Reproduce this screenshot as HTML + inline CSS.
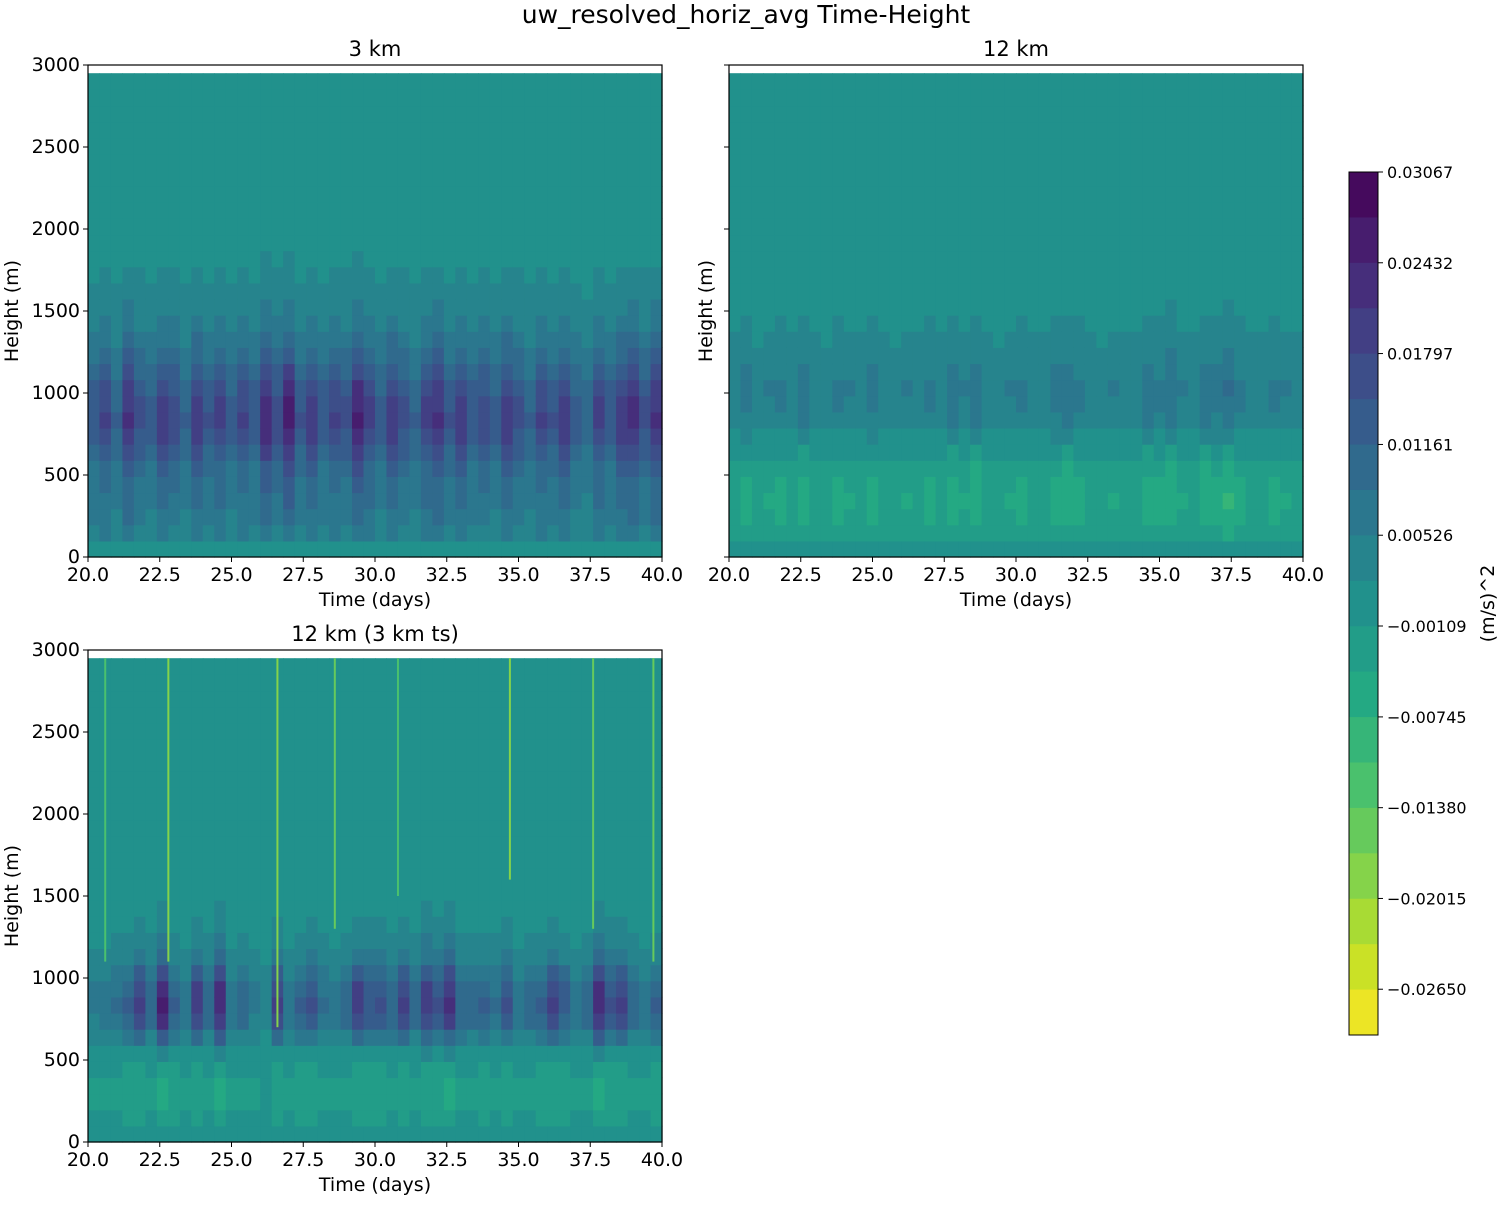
<!DOCTYPE html>
<html><head><meta charset="utf-8"><style>
body{margin:0;background:#fff;font-family:"Liberation Sans","DejaVu Sans",sans-serif;}
svg text{font-family:"DejaVu Sans","Liberation Sans",sans-serif;fill:#000;}
</style></head><body>
<svg id="fig" width="1500" height="1200" xmlns="http://www.w3.org/2000/svg">
<text x="746" y="23" font-size="25" text-anchor="middle">uw_resolved_horiz_avg Time-Height</text>
</svg>
<script>
// ---- data ----
const levelsTop = 0.03067;
const levelStep = 0.0031775;
const nLevels = 19;
const cbTicks = [0.03067,0.02432,0.01797,0.01161,0.00526,-0.00109,-0.00745,-0.01380,-0.02015,-0.02650];
const cbTickLabels = ["0.03067","0.02432","0.01797","0.01161","0.00526","\u22120.00109","\u22120.00745","\u22120.01380","\u22120.02015","\u22120.02650"];
const xTicks = [20,22.5,25,27.5,30,32.5,35,37.5,40];
const xTickLabels = ["20.0","22.5","25.0","27.5","30.0","32.5","35.0","37.5","40.0"];
const yTicks = [0,500,1000,1500,2000,2500,3000];
const heightTop = 2950;
// amplitudes per time column (50 columns, 20..40 days)
const amp3km = [0.014,0.018,0.012,0.022,0.016,0.013,0.020,0.017,0.012,0.021,0.015,0.019,0.013,0.018,0.014,0.024,0.017,0.026,0.015,0.020,0.014,0.018,0.016,0.025,0.019,0.013,0.021,0.016,0.012,0.019,0.022,0.015,0.020,0.014,0.017,0.013,0.021,0.016,0.012,0.018,0.015,0.020,0.013,0.011,0.019,0.014,0.021,0.023,0.016,0.022];
const amp12km = [0.008,0.011,0.006,0.009,0.010,0.007,0.012,0.008,0.006,0.010,0.009,0.007,0.011,0.008,0.006,0.009,0.007,0.010,0.008,0.012,0.009,0.013,0.008,0.006,0.009,0.010,0.007,0.008,0.011,0.013,0.010,0.007,0.006,0.009,0.008,0.007,0.012,0.010,0.014,0.009,0.008,0.013,0.011,0.015,0.010,0.008,0.007,0.010,0.009,0.008];
const amp12ts = [0.006,0.008,0.009,0.012,0.018,0.010,0.026,0.012,0.008,0.020,0.010,0.024,0.008,0.010,0.006,0.004,0.018,0.007,0.012,0.015,0.009,0.008,0.010,0.020,0.014,0.016,0.011,0.018,0.010,0.021,0.016,0.023,0.011,0.010,0.012,0.009,0.016,0.008,0.010,0.012,0.018,0.013,0.008,0.010,0.024,0.016,0.018,0.010,0.008,0.012];
// vertical profiles (30 rows, 0..2950 m)
const prof3km = [0,0.3,0.4,0.45,0.5,0.6,0.75,0.9,1,0.95,0.85,0.7,0.55,0.42,0.32,0.24,0.18,0.13,0.09,0.06,0.04,0.03,0.02,0.01,0,0,0,0,0,0];
const prof12km = [0,-0.3,-0.45,-0.5,-0.45,-0.35,-0.1,0.2,0.45,0.55,0.6,0.5,0.4,0.3,0.22,0.15,0.1,0.05,0,0,0,0,0,0,0,0,0,0,0,0];
const prof12ts = [0,-0.1,-0.2,-0.2,-0.1,0.1,0.5,0.85,1,0.9,0.65,0.4,0.25,0.15,0.1,0.05,0,0,0,0,0,0,0,0,0,0,0,0,0,0];
// yellow streaks in 12 km (3 km ts): day and value
const spikeDays = [20.6,22.8,26.6,28.6,30.8,34.7,37.6,39.7];
const spikeVals = [-0.012,-0.018,-0.020,-0.016,-0.012,-0.018,-0.016,-0.014];
const spikeBottom = [1100,1100,700,1300,1500,1600,1300,1100];

// ---- drawing ----
const NS="http://www.w3.org/2000/svg";
const svg=document.getElementById('fig');
function el(tag,attrs,parent){const e=document.createElementNS(NS,tag);for(const k in attrs)e.setAttribute(k,attrs[k]);(parent||svg).appendChild(e);return e;}
const vstops=["#440154","#482475","#414487","#355f8d","#2a788e","#21918c","#22a884","#44bf70","#7ad151","#bddf26","#fde725"];
function hex(h){return [1,3,5].map(i=>parseInt(h.substr(i,2),16));}
function viridis(t){t=Math.max(0,Math.min(1,t));const s=t*10,i=Math.min(9,Math.floor(s)),f=s-i;const a=hex(vstops[i]),b=hex(vstops[i+1]);return "rgb("+a.map((v,k)=>Math.round(v+(b[k]-v)*f)).join(",")+")";}
function bandColor(v){let i=Math.floor((levelsTop-v)/levelStep);i=Math.max(0,Math.min(nLevels-1,i));return viridis((i+0.5)/nLevels);}

function panel(name,x0,y0,w,h,title,amps,prof,showYLabels,spikes){
  const g=el('g',{});
  const xs=d=>x0+(d-20)/20*w, ys=m=>y0+h-m/3000*h;
  const n=amps.length, rows=prof.length;
  const plot=el('g',{},g);
  
  
  for(let c=0;c<n;c++){
    const d0=20+20*c/n,d1=20+20*(c+1)/n;
    for(let r=0;r<rows;r++){
      const m0=heightTop*r/rows,m1=heightTop*(r+1)/rows;
      const v=amps[c]*prof[r];
      const rc=el('rect',{x:xs(d0),y:ys(m1),width:xs(d1)-xs(d0)+0.6,height:ys(m0)-ys(m1)+0.6,fill:bandColor(v)},plot);
      
      
    }
  }
  if(spikes){
    for(let i=0;i<spikeDays.length;i++){
      const s=el('rect',{x:xs(spikeDays[i])-1,y:ys(heightTop),width:2,height:ys(spikeBottom[i])-ys(heightTop),fill:bandColor(spikeVals[i])},plot);
      
      
    }
  }
  el('rect',{x:x0,y:y0,width:w,height:h,fill:'none',stroke:'#000','stroke-width':1.2},g);
  const t=el('text',{x:x0+w/2,y:y0-9,'font-size':21,'text-anchor':'middle'},g);t.textContent=title;
  
  xTicks.forEach((d,i)=>{
    el('line',{x1:xs(d),x2:xs(d),y1:y0+h,y2:y0+h+5,stroke:'#000'},g);
    const tx=el('text',{x:xs(d),y:y0+h+24,'font-size':19,'text-anchor':'middle'},g);tx.textContent=xTickLabels[i];
    
  });
  yTicks.forEach(m=>{
    el('line',{x1:x0-5,x2:x0,y1:ys(m),y2:ys(m),stroke:'#000'},g);
    if(showYLabels){const ty=el('text',{x:x0-8,y:ys(m)+6,'font-size':19,'text-anchor':'end'},g);ty.textContent=m;
      }
  });
  const xl=el('text',{x:x0+w/2,y:y0+h+49,'font-size':19,'text-anchor':'middle'},g);xl.textContent='Time (days)';
  
  const yl=el('text',{x:0,y:0,'font-size':19,'text-anchor':'middle',transform:`translate(${x0-(showYLabels?70:17)},${y0+h/2}) rotate(-90)`},g);yl.textContent='Height (m)';
  
}
panel('panel-3km',88,65,574,492,'3 km',amp3km,prof3km,true,false);
panel('panel-12km',729,65,574,492,'12 km',amp12km,prof12km,false,false);
panel('panel-12km-3km-ts',88,650,574,492,'12 km (3 km ts)',amp12ts,prof12ts,true,true);

// colorbar
const cb=el('g',{});
const cbx=1349,cby=172,cbw=29,cbh=863;
const vBottom=levelsTop-nLevels*levelStep;
const cys=v=>cby+(levelsTop-v)/(levelsTop-vBottom)*cbh;
for(let i=0;i<nLevels;i++){
  const v=levelsTop-(i+0.5)*levelStep;
  const r=el('rect',{x:cbx,y:cys(levelsTop-i*levelStep),width:cbw,height:cbh/nLevels+0.5,fill:bandColor(v)},cb);
  
}
el('rect',{x:cbx,y:cby,width:cbw,height:cbh,fill:'none',stroke:'#000','stroke-width':1},cb);
cbTicks.forEach((v,i)=>{
  el('line',{x1:cbx+cbw,x2:cbx+cbw+5,y1:cys(v),y2:cys(v),stroke:'#000'},cb);
  const t=el('text',{x:cbx+cbw+9,y:cys(v)+6,'font-size':16},cb);t.textContent=cbTickLabels[i];
  
});
const cl=el('text',{x:0,y:0,'font-size':19,'text-anchor':'middle',transform:`translate(1494,${cby+cbh/2}) rotate(-90)`},cb);cl.textContent='(m/s)^2';

</script>
</body></html>
